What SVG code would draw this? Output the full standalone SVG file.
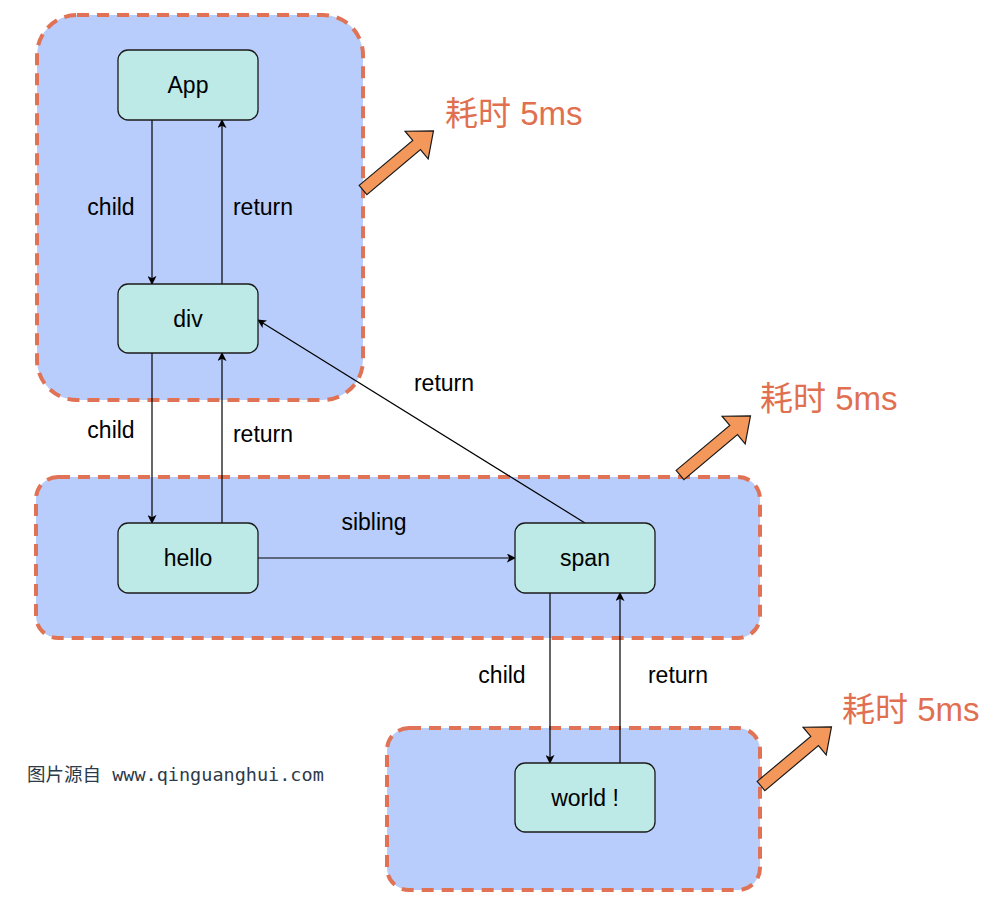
<svg xmlns="http://www.w3.org/2000/svg" width="1000" height="905" viewBox="0 0 1000 905">
<defs>
<style>
.grp{fill:#b8cdfb;stroke:#e07355;stroke-width:4;stroke-dasharray:12 8}
.node rect{fill:#bde9e6;stroke:#1a1a1a;stroke-width:1.3}
.node text{font-family:"Liberation Sans",Arial,sans-serif;font-size:23px;fill:#000;text-anchor:middle}
.lbl{font-family:"Liberation Sans",Arial,sans-serif;font-size:23px;fill:#000;text-anchor:middle}
.conn{stroke:#000;stroke-width:1.2;fill:none;marker-end:url(#ah)}
.big{fill:#f4975a;stroke:#1a1a1a;stroke-width:1.2}
.time{font-family:"Liberation Sans","Noto Sans CJK SC",sans-serif;font-size:33px;fill:#e07050}
</style>
<marker id="ah" viewBox="0 0 10 10" refX="9" refY="5" markerWidth="9" markerHeight="9" markerUnits="userSpaceOnUse" orient="auto">
<path d="M0,0 L10,5 L0,10 L2.5,5 Z" fill="#000"/>
</marker>
<polygon id="barrow" points="0,-6 70,-6 70,-18 92,0 70,18 70,6 0,6"/>
</defs>
<rect width="1000" height="905" fill="#fff"/>
<g id="groups">
<rect class="grp" x="37" y="15" width="326" height="385" rx="40"/>
<rect class="grp" x="36" y="477" width="724" height="161" rx="22"/>
<rect class="grp" x="387" y="728" width="373" height="162" rx="22"/>
</g>
<g id="connectors">
<line class="conn" x1="152" y1="120" x2="152" y2="284"/>
<line class="conn" x1="222" y1="284" x2="222" y2="120"/>
<line class="conn" x1="152" y1="353" x2="152" y2="523"/>
<line class="conn" x1="222" y1="523" x2="222" y2="353"/>
<line class="conn" x1="258" y1="558" x2="515" y2="558"/>
<line class="conn" x1="585" y1="523" x2="258" y2="320"/>
<line class="conn" x1="550" y1="593" x2="550" y2="763"/>
<line class="conn" x1="620" y1="763" x2="620" y2="593"/>
<text class="lbl" x="111" y="215">child</text>
<text class="lbl" x="263" y="215">return</text>
<text class="lbl" x="111" y="438">child</text>
<text class="lbl" x="263" y="442">return</text>
<text class="lbl" x="444" y="391">return</text>
<text class="lbl" x="374" y="530">sibling</text>
<text class="lbl" x="502" y="683">child</text>
<text class="lbl" x="678" y="683">return</text>
</g>
<g id="App" class="node"><rect x="118" y="50" width="140" height="70" rx="10"/><text x="188" y="93">App</text></g>
<g id="div" class="node"><rect x="118" y="284" width="140" height="69" rx="10"/><text x="188" y="327">div</text></g>
<g id="hello" class="node"><rect x="118" y="523" width="140" height="70" rx="10"/><text x="188" y="566">hello</text></g>
<g id="span" class="node"><rect x="515" y="523" width="140" height="70" rx="10"/><text x="585" y="566">span</text></g>
<g id="world" class="node"><rect x="515" y="763" width="140" height="69" rx="10"/><text x="585" y="806">world !</text></g>
<g id="time1">
<use href="#barrow" class="big" transform="translate(363,190) rotate(-40)"/>
<text class="time" x="445" y="125">耗时 5ms</text>
</g>
<g id="time2">
<use href="#barrow" class="big" transform="translate(680,475) rotate(-40)"/>
<text class="time" x="760" y="410">耗时 5ms</text>
</g>
<g id="time3">
<use href="#barrow" class="big" transform="translate(761,786) rotate(-40)"/>
<text class="time" x="842" y="721">耗时 5ms</text>
</g>
<text x="27" y="781" font-size="18.5" fill="#2d3a4a" font-family="'DejaVu Sans Mono','Noto Sans CJK SC',monospace"><tspan font-family="'Noto Sans CJK SC',sans-serif">图片源自</tspan> www.qinguanghui.com</text>
</svg>
